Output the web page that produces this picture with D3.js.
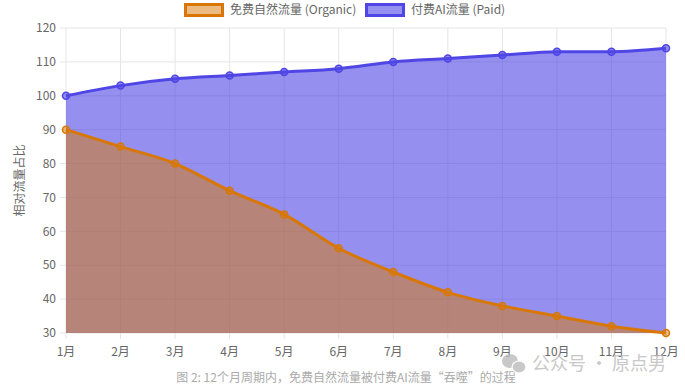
<!DOCTYPE html>
<html>
<head>
<meta charset="utf-8">
<script src="https://cdn.jsdelivr.net/npm/d3@7/dist/d3.min.js"></script>
<style>
  html, body { margin: 0; padding: 0; background: #fff; }
  svg { display: block; font-family: "Noto Sans CJK SC", "Noto Sans", sans-serif; }
</style>
</head>
<body>
<svg id="chart" width="685" height="391"></svg>
<script>
// data
var months = ['1月','2月','3月','4月','5月','6月','7月','8月','9月','10月','11月','12月'];
var organic = [90, 85, 80, 72, 65, 55, 48, 42, 38, 35, 32, 30];
var paid = [100, 103, 105, 106, 107, 108, 110, 111, 112, 113, 113, 114];
var yTicks = [30, 40, 50, 60, 70, 80, 90, 100, 110, 120];
var seriesNames = ['免费自然流量 (Organic)', '付费AI流量 (Paid)'];

var width = 685, height = 391;
var margin = { top: 28, right: 19, bottom: 58, left: 66 };

var svg = d3.select('#chart');

var x = d3.scalePoint().domain(months).range([margin.left, width - margin.right]);
var y = d3.scaleLinear().domain([30, 120]).range([height - margin.bottom, margin.top]);

var orangeLine = '#d97706', orangeFill = 'rgba(217,119,6,0.5)';
var blueLine = '#4f46e5', blueFill = 'rgba(79,70,229,0.6)';

// grid
var grid = svg.append('g');
grid.selectAll('line.h').data(yTicks).enter().append('line')
    .attr('x1', margin.left - 6).attr('x2', width - margin.right)
    .attr('y1', function(d){ return y(d); }).attr('y2', function(d){ return y(d); })
    .attr('stroke', '#e5e5e5').attr('stroke-width', 1);
grid.selectAll('line.v').data(months).enter().append('line')
    .attr('x1', function(d){ return x(d); }).attr('x2', function(d){ return x(d); })
    .attr('y1', margin.top).attr('y2', height - margin.bottom + 6)
    .attr('stroke', '#e5e5e5').attr('stroke-width', 1);

var curve = d3.curveMonotoneX;

function drawSeries(vals, fill, stroke) {
    var area = d3.area()
        .x(function(d, i){ return x(months[i]); })
        .y0(y(30)).y1(function(d){ return y(d); })
        .curve(curve);
    var line = d3.line()
        .x(function(d, i){ return x(months[i]); })
        .y(function(d){ return y(d); })
        .curve(curve);
    svg.append('path').datum(vals).attr('d', area).attr('fill', fill);
    return { line: line, vals: vals, stroke: stroke, fill: fill };
}

var s1 = drawSeries(paid, blueFill, blueLine);
var s2 = drawSeries(organic, orangeFill, orangeLine);

[s1, s2].forEach(function(s) {
    svg.append('path').datum(s.vals).attr('d', s.line)
        .attr('fill', 'none').attr('stroke', s.stroke).attr('stroke-width', 3);
    svg.append('g').selectAll('circle').data(s.vals).enter().append('circle')
        .attr('cx', function(d, i){ return x(months[i]); })
        .attr('cy', function(d){ return y(d); })
        .attr('r', 3.5)
        .attr('fill', s.fill).attr('stroke', s.stroke).attr('stroke-width', 1.5);
});

// axes labels
svg.append('g').selectAll('text').data(yTicks).enter().append('text')
    .attr('x', margin.left - 10).attr('y', function(d){ return y(d); })
    .attr('dy', '0.35em').attr('text-anchor', 'end')
    .attr('font-size', 12).attr('fill', '#666')
    .text(function(d){ return d; });

svg.append('g').selectAll('text').data(months).enter().append('text')
    .attr('x', function(d){ return x(d); }).attr('y', height - margin.bottom + 19)
    .attr('dy', '0.35em').attr('text-anchor', 'middle')
    .attr('font-size', 12).attr('fill', '#666')
    .text(function(d){ return d; });

svg.append('text')
    .attr('transform', 'translate(20,' + ((margin.top + height - margin.bottom) / 2) + ') rotate(-90)')
    .attr('text-anchor', 'middle').attr('dy', '0.35em')
    .attr('font-size', 12).attr('fill', '#666')
    .text('相对流量占比');

// legend
var legend = [
    { name: seriesNames[0], x: 184, fill: orangeFill, stroke: orangeLine },
    { name: seriesNames[1], x: 365, fill: blueFill, stroke: blueLine }
];
var lg = svg.append('g').selectAll('g').data(legend).enter().append('g');
lg.append('rect')
    .attr('x', function(d){ return d.x + 1.5; }).attr('y', 4.5)
    .attr('width', 37).attr('height', 11)
    .attr('fill', function(d){ return d.fill; })
    .attr('stroke', function(d){ return d.stroke; }).attr('stroke-width', 3);
lg.append('text')
    .attr('x', function(d){ return d.x + 46; }).attr('y', 10)
    .attr('dy', '0.35em').attr('font-size', 12).attr('fill', '#666')
    .text(function(d){ return d.name; });

// caption
svg.append('text')
    .attr('x', 346).attr('y', 378).attr('text-anchor', 'middle')
    .attr('dy', '0.35em').attr('font-size', 12).attr('fill', '#aaa')
    .text('图 2: 12个月周期内，免费自然流量被付费AI流量“吞噬”的过程');

// watermark (overlaps the last tick labels, as in the source image)
var wm = svg.append('g').attr('opacity', 0.8);
wm.append('ellipse').attr('cx', 510).attr('cy', 361).attr('rx', 8).attr('ry', 7).attr('fill', '#bbb');
wm.append('ellipse').attr('cx', 519).attr('cy', 367).attr('rx', 7).attr('ry', 6).attr('fill', '#bbb').attr('stroke', '#fff').attr('stroke-width', 1.2);
wm.append('text')
    .attr('x', 532).attr('y', 364).attr('dy', '0.35em')
    .attr('font-size', 18).attr('fill', '#bbb')
    .text('公众号 · 原点男');
</script>
</body>
</html>
